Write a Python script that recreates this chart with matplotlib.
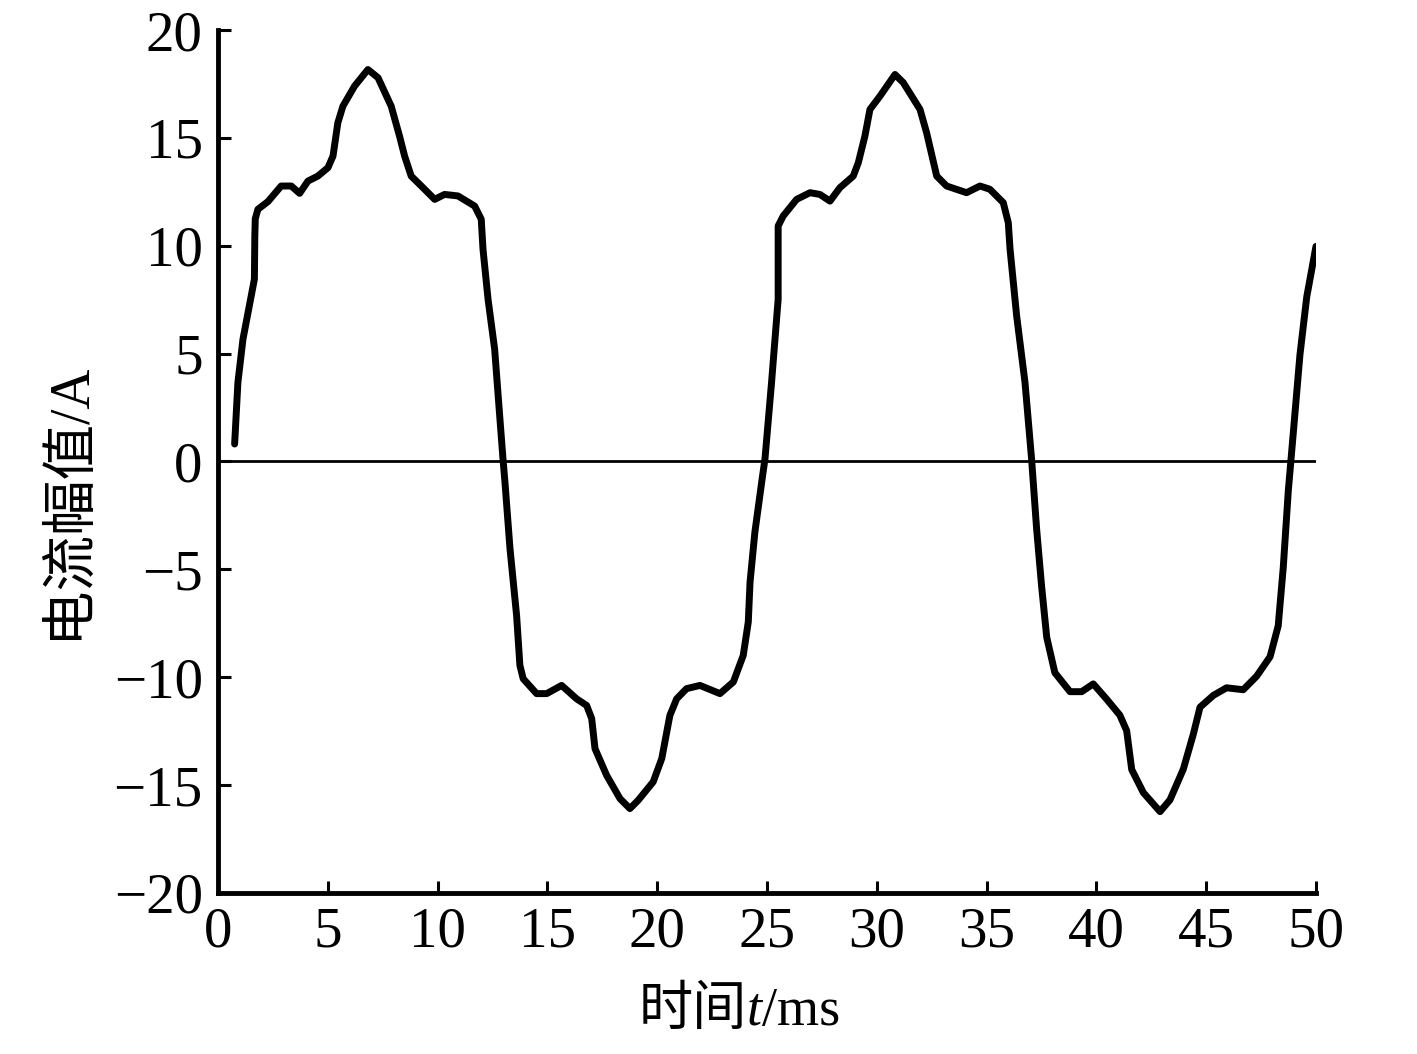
import matplotlib
matplotlib.use("Agg")
import matplotlib.pyplot as plt
from matplotlib.offsetbox import TextArea, HPacker, AnnotationBbox

plt.rcParams['font.family'] = ['Liberation Serif', 'Noto Sans CJK SC', 'DejaVu Sans']

# current waveform (time in ms, current in A)
t_ms = [0.76, 0.91, 1.14, 1.66, 1.68, 1.70, 1.82, 2.28, 2.88, 3.34, 3.72, 4.10, 4.55,
        5.01, 5.24, 5.46, 5.69, 6.22, 6.83, 7.29, 7.89, 8.27, 8.50, 8.80, 9.41, 9.87,
        10.32, 10.93, 11.69, 11.99, 12.07, 12.30, 12.60, 12.83, 12.98, 13.07, 13.30,
        13.60, 13.75, 13.90, 14.51, 14.97, 15.65, 16.33, 16.79, 17.02, 17.17, 17.70,
        18.31, 18.76, 19.14, 19.82, 20.21, 20.58, 20.89, 21.34, 21.95, 22.86, 23.47,
        23.92, 24.15, 24.23, 24.45, 24.76, 24.91, 25.21, 25.51, 25.51, 25.74, 26.35,
        26.96, 27.41, 27.87, 28.32, 28.93, 29.16, 29.46, 29.69, 30.15, 30.83, 31.21,
        31.97, 32.27, 32.73, 33.18, 34.09, 34.70, 35.15, 35.76, 35.99, 36.07, 36.37,
        36.75, 37.05, 37.28, 37.51, 37.74, 38.11, 38.80, 39.33, 39.86, 40.47, 41.07,
        41.38, 41.61, 42.14, 42.90, 43.35, 43.96, 44.41, 44.72, 45.33, 45.93, 46.69,
        47.30, 47.91, 48.28, 48.51, 48.74, 48.97, 49.27, 49.58, 50.0]
i_amp = [0.81, 3.67, 5.67, 8.45, 10.45, 11.25, 11.69, 12.05, 12.77, 12.77, 12.43, 13.0,
         13.23, 13.62, 14.16, 15.70, 16.47, 17.40, 18.17, 17.79, 16.47, 15.08, 14.16,
         13.23, 12.62, 12.15, 12.38, 12.31, 11.84, 11.23, 9.84, 7.52, 5.21, 2.12, 0.12,
         -0.96, -4.05, -7.14, -9.45, -10.07, -10.76, -10.76, -10.38, -11.0, -11.31,
         -11.92, -13.31, -14.55, -15.63, -16.09, -15.70, -14.85, -13.77, -11.77, -11.0,
         -10.53, -10.38, -10.76, -10.22, -8.99, -7.44, -5.59, -3.28, -0.96, 0.12, 3.67,
         7.52, 10.92, 11.38, 12.15, 12.46, 12.38, 12.07, 12.69, 13.23, 13.85, 15.08,
         16.32, 16.94, 17.94, 17.56, 16.32, 15.24, 13.23, 12.77, 12.46, 12.77, 12.62,
         12.0, 11.07, 9.84, 6.75, 3.67, 0.12, -3.13, -5.82, -8.15, -9.79, -10.67,
         -10.67, -10.31, -11.02, -11.76, -12.48, -14.28, -15.35, -16.23, -15.69, -14.26,
         -12.66, -11.39, -10.84, -10.49, -10.58, -9.95, -9.05, -7.62, -4.92, -1.36,
         1.36, 4.94, 7.63, 9.97]

x_ticks = [0, 5, 10, 15, 20, 25, 30, 35, 40, 45, 50]
y_ticks = [-20, -15, -10, -5, 0, 5, 10, 15, 20]

fig = plt.figure(figsize=(14.17, 10.54), dpi=100)
ax = fig.add_axes([0.1538, 0.1528, 0.7749, 0.8187])

ax.axhline(0, color='black', lw=2.0)
ax.plot(t_ms, i_amp, color='black', lw=5, solid_joinstyle='round', solid_capstyle='round')

ax.set_xlim(0, 50)
ax.set_ylim(-20, 20)
ax.set_xticks(x_ticks)
ax.set_yticks(y_ticks)
ax.tick_params(direction='in', length=9, width=2.2, labelsize=41)
ax.tick_params(axis='x', pad=10)
ax.tick_params(axis='y', pad=11)

for side in ['top', 'right']:
  ax.spines[side].set_visible(False)
for side in ['left', 'bottom']:
  ax.spines[side].set_linewidth(3.5)

# x label: 时间 + italic t + /ms, packed on one baseline
lab_size = 39
parts = [TextArea('时间', textprops=dict(fontsize=lab_size)),
         TextArea('t', textprops=dict(fontsize=lab_size, style='italic')),
         TextArea('/ms', textprops=dict(fontsize=lab_size))]
pack = HPacker(children=parts, align='baseline', pad=0, sep=0)
ab = AnnotationBbox(pack, (0.475, -0.108), xycoords='axes fraction',
                    box_alignment=(0.5, 1.0), frameon=False, annotation_clip=False)
ax.add_artist(ab)

ax.set_ylabel('电流幅值/A', fontsize=40)
ax.yaxis.set_label_coords(-0.112, 0.455)

fig.savefig('out.png', dpi=100)
